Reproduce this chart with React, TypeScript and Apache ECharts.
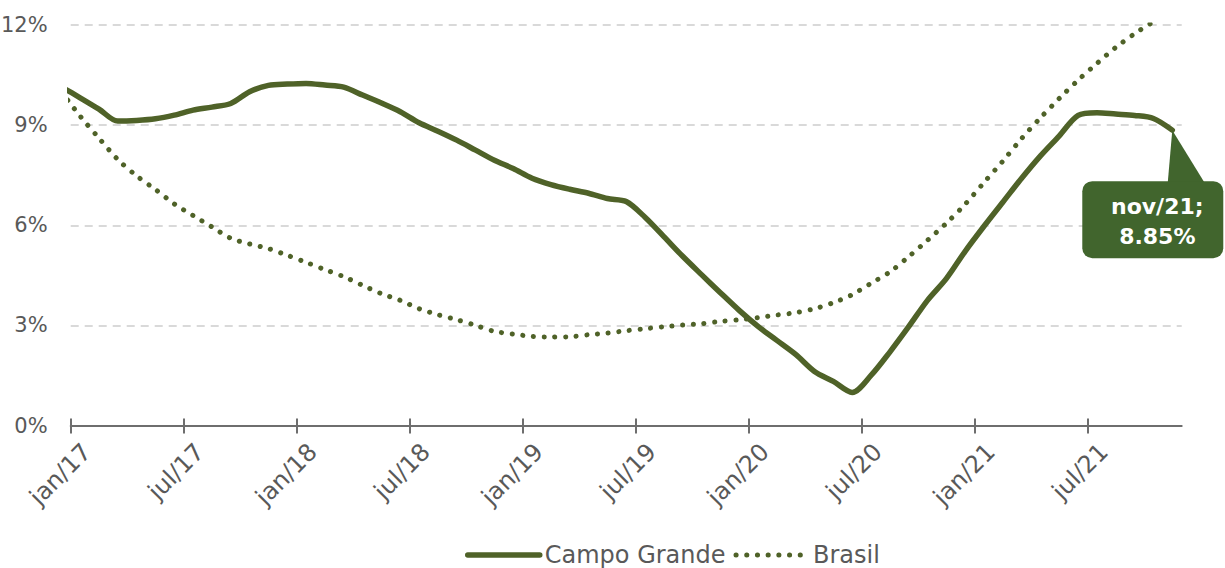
import { useEffect, useRef } from "react";
import * as echarts from "echarts";

// Monthly values, from dez/16 (first point, mostly outside the axis) to nov/21.
// Points are plotted at the middle of each month on a month-offset axis (0 = start of jan/17).
const firstMonthOffset = -1; // dez/16 is one month before jan/17
const tickLabels = ["jan/17", "jul/17", "jan/18", "jul/18", "jan/19", "jul/19", "jan/20", "jul/20", "jan/21", "jul/21"];
const tickStepMonths = 6;
const axisMonths = 59; // jan/17 .. dez/21
const yTicks = [0, 3, 6, 9, 12];

const campoGrande = [
  10.15, 9.82, 9.48, 9.12, 9.14, 9.19, 9.3, 9.45, 9.54, 9.65, 10.0, 10.19, 10.23,
  10.25, 10.2, 10.14, 9.9, 9.66, 9.4, 9.07, 8.82, 8.55, 8.25, 7.95, 7.7, 7.41,
  7.22, 7.08, 6.96, 6.8, 6.71, 6.24, 5.66, 5.07, 4.52, 3.98, 3.45, 2.97, 2.55,
  2.13, 1.62, 1.32, 0.99, 1.5, 2.2, 2.96, 3.75, 4.4, 5.22, 5.97, 6.69, 7.41,
  8.08, 8.68, 9.29, 9.37, 9.33, 9.29, 9.2, 8.85,
];

const brasil = [
  10.0, 9.27, 8.61, 7.97, 7.48, 7.07, 6.64, 6.29, 5.95, 5.61, 5.44, 5.3, 5.1,
  4.89, 4.67, 4.46, 4.2, 3.95, 3.75, 3.5, 3.32, 3.17, 3.0, 2.82, 2.74, 2.67,
  2.65, 2.66, 2.72, 2.77, 2.84, 2.9, 2.96, 3.01, 3.05, 3.12, 3.17, 3.23, 3.31,
  3.38, 3.5, 3.68, 3.92, 4.26, 4.6, 5.06, 5.55, 6.06, 6.63, 7.28, 7.92, 8.6,
  9.22, 9.8, 10.35, 10.85, 11.33, 11.74, 12.1,
];

const lastMonthLabel = "nov/21";

const GREEN = "#4F6228";
const BOX = "#41652D";
const TEXT = "#595959";
const AXIS = "#6E6E6E";
const FONT = "DejaVu Sans";
const DOTS = [0.1, 10.6];

const toPoints = (arr: number[]) => arr.map((v, i) => [i + firstMonthOffset + 0.5, v]);

export default function App() {
  const ref = useRef<HTMLDivElement>(null);

  useEffect(() => {
    const chart = echarts.init(ref.current!, null, { renderer: "svg" });
    const ticks = tickLabels.map((_, i) => i * tickStepMonths);

    chart.setOption({
      animation: false,
      grid: { left: 70.7, right: 43.3, top: 25, bottom: 142.5, outerBoundsMode: "none" },
      xAxis: [
        {
          type: "value",
          min: 0,
          max: axisMonths,
          position: "bottom",
          axisLine: { show: true, onZero: true, lineStyle: { color: AXIS, width: 2 } },
          axisTick: { show: true, customValues: ticks, length: 8, lineStyle: { color: AXIS, width: 2 } },
          axisLabel: {
            customValues: ticks,
            formatter: (v: number) => tickLabels[Math.round(v / tickStepMonths)],
            rotate: 45,
            align: "right",
            verticalAlign: "top",
            padding: [11, 0, 0, 0],
            margin: 6,
            fontSize: 24,
            color: TEXT,
            fontFamily: FONT,
          },
          splitLine: { show: false },
        },
        {
          type: "value",
          min: 0,
          max: axisMonths,
          position: "bottom",
          axisLine: { show: false },
          axisTick: { show: true, inside: true, customValues: ticks, length: 7, lineStyle: { color: AXIS, width: 2 } },
          axisLabel: { show: false },
          splitLine: { show: false },
        },
      ],
      yAxis: {
        type: "value",
        min: yTicks[0],
        max: yTicks[yTicks.length - 1],
        interval: yTicks[1] - yTicks[0],
        axisLine: { show: false },
        axisTick: { show: false },
        axisLabel: { formatter: "{value}%", margin: 23, fontSize: 21, color: TEXT, fontFamily: FONT },
        splitLine: { show: true, lineStyle: { color: "#D9D9D9", width: 2, type: [8, 6] } },
      },
      legend: {
        left: 465,
        top: 543,
        padding: 0,
        itemWidth: 72,
        itemHeight: 22,
        itemGap: 8,
        itemStyle: { opacity: 0 },
        textStyle: { fontSize: 24, lineHeight: 22, color: TEXT, fontFamily: FONT },
        data: [
          { name: "Campo Grande", lineStyle: { width: 5.5, color: GREEN, cap: "round" } },
          { name: "Brasil", lineStyle: { width: 5, color: GREEN, type: DOTS, cap: "round" } },
        ],
      },
      series: [
        {
          name: "Campo Grande",
          type: "line",
          xAxisIndex: 0,
          data: toPoints(campoGrande),
          symbol: "none",
          smooth: 0.3,
          lineStyle: { color: GREEN, width: 5.5, cap: "round", join: "round" },
          itemStyle: { color: GREEN },
          z: 3,
        },
        {
          name: "Brasil",
          type: "line",
          xAxisIndex: 0,
          data: toPoints(brasil),
          symbol: "none",
          smooth: 0.3,
          lineStyle: { color: GREEN, width: 5, type: DOTS, cap: "round" },
          itemStyle: { color: GREEN },
          z: 2,
        },
      ],
    });

    const last = campoGrande.length - 1;
    const p = chart.convertToPixel({ xAxisIndex: 0, yAxisIndex: 0 }, [
      last + firstMonthOffset + 0.5,
      campoGrande[last],
    ]) as number[];
    const tx = p[0];
    const ty = p[1];

    chart.setOption({
      graphic: {
        elements: [
          {
            type: "polygon",
            z: 100,
            shape: { points: [[tx, ty], [tx - 4.5, ty + 52], [tx + 32, ty + 52]] },
            style: { fill: BOX },
          },
          {
            type: "rect",
            z: 100,
            shape: { x: tx - 90, y: ty + 51, width: 141, height: 77, r: 10 },
            style: { fill: BOX },
          },
          {
            type: "text",
            z: 101,
            x: tx - 15,
            y: ty + 91,
            style: {
              text: `${lastMonthLabel};\n${campoGrande[last].toFixed(2)}%`,
              fill: "#FFFFFF",
              fontSize: 22,
              fontWeight: "bold",
              fontFamily: FONT,
              align: "center",
              verticalAlign: "middle",
              lineHeight: 30,
            },
          },
        ],
      },
    });

    return () => chart.dispose();
  }, []);

  return (
    <div
      ref={ref}
      style={{ position: "absolute", left: 0, top: 0, width: 1225, height: 568 }}
    />
  );
}
